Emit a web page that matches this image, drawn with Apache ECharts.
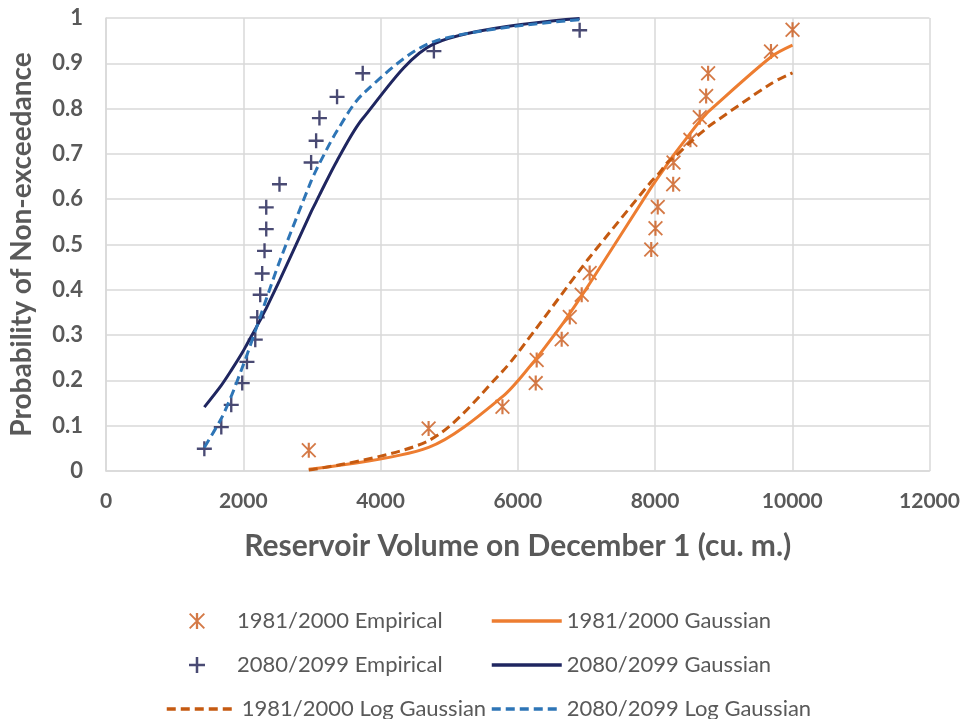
<!DOCTYPE html>
<html>
<head>
<meta charset="utf-8">
<script src="https://cdn.jsdelivr.net/npm/echarts@6/dist/echarts.min.js"></script>
<style>
  html, body { margin: 0; padding: 0; background: #ffffff; }
  #chart { width: 963px; height: 719px; }
</style>
</head>
<body>
<div id="chart"></div>
<script>
// Reservoir volume on December 1 (cu. m.) for each ranked year
const volume1981 = [2955, 4701, 5777, 6262, 6276, 6640, 6758, 6932, 7048, 7945,
                    8007, 8040, 8265, 8270, 8516, 8652, 8745, 8774, 9690, 10004];
const volume2080 = [1433, 1680, 1825, 1985, 2054, 2175, 2204, 2247, 2276, 2310,
                    2335, 2335, 2528, 2989, 3062, 3110, 3367, 3741, 4778, 6902];

// Empirical probabilities of non-exceedance
const empirical1981 = [0.046, 0.094, 0.142, 0.194, 0.245, 0.291, 0.340, 0.389, 0.437, 0.489,
                       0.536, 0.583, 0.633, 0.681, 0.731, 0.781, 0.828, 0.878, 0.926, 0.974];
const empirical2080 = [0.049, 0.097, 0.146, 0.194, 0.241, 0.290, 0.339, 0.389, 0.436, 0.486,
                       0.534, 0.582, 0.633, 0.681, 0.729, 0.779, 0.826, 0.878, 0.927, 0.973];

// Fitted distribution values at the same volumes
const gaussian1981 = [0.004, 0.052, 0.164, 0.246, 0.249, 0.322, 0.348, 0.387, 0.414, 0.626,
                      0.640, 0.647, 0.696, 0.697, 0.746, 0.772, 0.788, 0.793, 0.914, 0.940];
const logGaussian1981 = [0.002, 0.067, 0.220, 0.313, 0.316, 0.390, 0.414, 0.449, 0.472, 0.639,
                         0.649, 0.654, 0.690, 0.690, 0.726, 0.744, 0.756, 0.760, 0.855, 0.879];
const gaussian2080 = [0.141, 0.189, 0.222, 0.261, 0.280, 0.313, 0.321, 0.333, 0.342, 0.352,
                      0.359, 0.359, 0.420, 0.572, 0.594, 0.609, 0.685, 0.778, 0.943, 0.999];
const logGaussian2080 = [0.052, 0.116, 0.165, 0.228, 0.256, 0.309, 0.321, 0.340, 0.353, 0.368,
                         0.379, 0.379, 0.462, 0.640, 0.664, 0.679, 0.751, 0.832, 0.948, 0.996];

const seriesNames = [
  '1981/2000 Empirical', '1981/2000 Gaussian',
  '2080/2099 Empirical', '2080/2099 Gaussian',
  '1981/2000 Log Gaussian', '2080/2099 Log Gaussian'
];

const xTicks = { min: 0, max: 12000, interval: 2000 };
const yTicks = { min: 0, max: 1, interval: 0.1 };

const pairs = (xs, ys) => xs.map((x, i) => [x, ys[i]]);

// asterisk marker: X with a vertical stroke
const starPath = 'path://M6,0L8,0L8,14L6,14Z M1.2,0L14,12.8L12.8,14L0,1.2Z M12.8,0L14,1.2L1.2,14L0,12.8Z';
// plus marker
const plusPath = 'path://M5.9,0H8.1V5.9H14V8.1H8.1V14H5.9V8.1H0V5.9H5.9Z';

const FONT = 'Lato, "Open Sans", sans-serif';
const GREY = '#595959';
const GRID = '#d9d9d9';

const legendText = { fontFamily: FONT, fontSize: 22, color: GREY };
function legendAt(item, left, top) {
  return {
    data: [item], left: left, top: top,
    itemWidth: 70, itemHeight: 16, itemGap: 0,
    textStyle: legendText, selectedMode: false
  };
}
// line entries show only the stroke, no point symbol
const lineEntry = name => ({ name: name, itemStyle: { opacity: 0 }, lineStyle: { width: 3.5 } });
const markerEntry = (name, icon) => ({ name: name, icon: icon });

const chart = echarts.init(document.getElementById('chart'), null, { renderer: 'canvas' });
chart.setOption({
  animation: false,
  backgroundColor: '#ffffff',
  grid: { left: 104.5, right: 33.5, top: 18, bottom: 248, containLabel: false },
  xAxis: {
    type: 'value', min: xTicks.min, max: xTicks.max, interval: xTicks.interval,
    name: 'Reservoir Volume on December 1 (cu. m.)',
    nameLocation: 'middle', nameGap: 60,
    nameTextStyle: { fontFamily: FONT, fontSize: 30, fontWeight: 'bold', color: GREY },
    axisLine: { show: true, lineStyle: { color: GRID, width: 1.5 } },
    axisTick: { show: false },
    axisLabel: {
      fontFamily: FONT, fontSize: 21, fontWeight: 'bold', color: GREY, margin: 20,
      formatter: v => String(v)
    },
    splitLine: { show: true, lineStyle: { color: GRID, width: 1.5 } }
  },
  yAxis: {
    type: 'value', min: yTicks.min, max: yTicks.max, interval: yTicks.interval,
    name: 'Probability of Non-exceedance',
    nameLocation: 'middle', nameGap: 70,
    nameTextStyle: { fontFamily: FONT, fontSize: 28, fontWeight: 'bold', color: GREY },
    axisLine: { show: true, lineStyle: { color: GRID, width: 1.5 } },
    axisTick: { show: false },
    axisLabel: {
      fontFamily: FONT, fontSize: 22, fontWeight: 'bold', color: GREY, margin: 23,
      formatter: v => (Math.round(v * 10) / 10).toString()
    },
    splitLine: { show: true, lineStyle: { color: GRID, width: 1.5 } }
  },
  legend: [
    legendAt(markerEntry(seriesNames[0], starPath), 184, 605),
    legendAt(lineEntry(seriesNames[1]), 485, 605),
    legendAt(markerEntry(seriesNames[2], plusPath), 184, 649),
    legendAt(lineEntry(seriesNames[3]), 485, 649),
    legendAt(lineEntry(seriesNames[4]), 160, 693),
    legendAt(lineEntry(seriesNames[5]), 485, 693)
  ],
  series: [
    {
      name: seriesNames[1], type: 'line', data: pairs(volume1981, gaussian1981),
      smooth: 0.3, showSymbol: false, symbol: 'none',
      itemStyle: { color: '#ed7d31' },
      lineStyle: { color: '#ed7d31', width: 3 }
    },
    {
      name: seriesNames[4], type: 'line', data: pairs(volume1981, logGaussian1981),
      smooth: 0.3, showSymbol: false, symbol: 'none',
      itemStyle: { color: '#c55a11' },
      lineStyle: { color: '#c55a11', width: 3, type: [9, 5] }
    },
    {
      name: seriesNames[3], type: 'line', data: pairs(volume2080, gaussian2080),
      smooth: 0.3, showSymbol: false, symbol: 'none',
      itemStyle: { color: '#1f2660' },
      lineStyle: { color: '#1f2660', width: 3 }
    },
    {
      name: seriesNames[5], type: 'line', data: pairs(volume2080, logGaussian2080),
      smooth: 0.3, showSymbol: false, symbol: 'none',
      itemStyle: { color: '#2e75b6' },
      lineStyle: { color: '#2e75b6', width: 3, type: [9, 5] }
    },
    {
      name: seriesNames[0], type: 'scatter', data: pairs(volume1981, empirical1981),
      symbol: starPath, symbolSize: 15,
      itemStyle: { color: '#c95818' }
    },
    {
      name: seriesNames[2], type: 'scatter', data: pairs(volume2080, empirical2080),
      symbol: plusPath, symbolSize: 15,
      itemStyle: { color: '#1b1d50' }
    }
  ]
});
</script>
</body>
</html>
